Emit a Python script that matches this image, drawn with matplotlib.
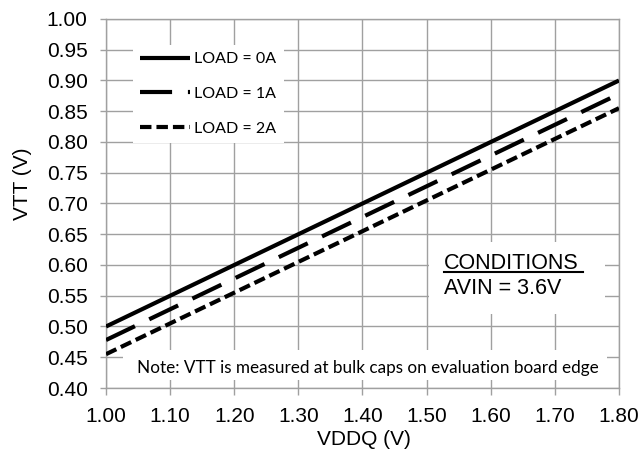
import matplotlib
matplotlib.use("Agg")
import matplotlib.pyplot as plt
from matplotlib.patches import Rectangle

# data
vddq = [1.00, 1.80]
vtt_0a = [0.500, 0.900]
vtt_1a = [0.478, 0.878]
vtt_2a = [0.455, 0.855]
labels = ["LOAD = 0A", "LOAD = 1A", "LOAD = 2A"]
xticks = [1.00, 1.10, 1.20, 1.30, 1.40, 1.50, 1.60, 1.70, 1.80]
yticks = [0.40, 0.45, 0.50, 0.55, 0.60, 0.65, 0.70, 0.75, 0.80, 0.85, 0.90, 0.95, 1.00]

plt.rcParams["font.family"] = ["Liberation Sans", "DejaVu Sans"]
grid_c = "#a0a0a0"

fig = plt.figure(figsize=(6.43, 4.58), dpi=100)
ax = fig.add_axes([106 / 643, 70 / 458, 513 / 643, 369 / 458])

lw = 3.0
ax.plot(vddq, vtt_0a, color="black", lw=lw, solid_capstyle="butt", label=labels[0], zorder=5)
ax.plot(vddq, vtt_1a, color="black", lw=lw, dashes=(7.7, 3.8), dash_capstyle="butt",
        label=labels[1], zorder=5)
ax.plot(vddq, vtt_2a, color="black", lw=lw, dashes=(2.75, 1.2), dash_capstyle="butt",
        label=labels[2], zorder=5)

ax.set_xlim(1.0, 1.8)
ax.set_ylim(0.4, 1.0)
ax.set_xticks(xticks)
ax.set_yticks(yticks)
ax.set_xticklabels([f"{v:.2f}" for v in xticks])
ax.set_yticklabels([f"{v:.2f}" for v in yticks])
ax.grid(True, color=grid_c, lw=1.0)
ax.set_axisbelow(True)
for s in ax.spines.values():
    s.set_color(grid_c)
    s.set_linewidth(1.0)
ax.tick_params(axis="x", length=5, width=1, color=grid_c, pad=8.5, labelsize=15)
ax.tick_params(axis="y", length=4.3, width=1, color=grid_c, pad=9, labelsize=15)

ax.set_xlabel("VDDQ (V)", fontsize=15)
ax.set_ylabel("VTT (V)", fontsize=15)
ax.xaxis.set_label_coords(0.503, -0.113)
ax.yaxis.set_label_coords(-0.144, 0.553)

leg = ax.legend(loc="upper left", bbox_to_anchor=(0.053, 0.930), borderaxespad=0,
                frameon=True, fancybox=False, framealpha=1, facecolor="white",
                edgecolor="none", handlelength=3.13, handletextpad=0.25,
                labelspacing=1.29, borderpad=0.45,
                prop={"family": "Lato", "size": 11.5})
leg.set_zorder(6)

# conditions box
ax.add_patch(Rectangle((0.630, 0.2005), 0.343, 0.1955, transform=ax.transAxes,
                       facecolor="white", edgecolor="none", zorder=3))
ax.text(0.659, 0.3225, "CONDITIONS", transform=ax.transAxes, fontsize=15.5,
        va="baseline", ha="left", zorder=7)
ax.plot([0.659, 0.930], [0.314, 0.314], transform=ax.transAxes, color="black",
        lw=1.5, zorder=7)
ax.text(0.659, 0.2547, "AVIN = 3.6V", transform=ax.transAxes, fontsize=15.5,
        va="baseline", ha="left", zorder=7)

# note box
ax.add_patch(Rectangle((0.033, 0.0217), 0.944, 0.0813, transform=ax.transAxes,
                       facecolor="white", edgecolor="none", zorder=3))
ax.text(0.060, 0.0407, "Note: VTT is measured at bulk caps on evaluation board edge",
        transform=ax.transAxes, fontsize=12.3, family="Lato", va="baseline",
        ha="left", zorder=7)

fig.savefig("out.png", dpi=100)
